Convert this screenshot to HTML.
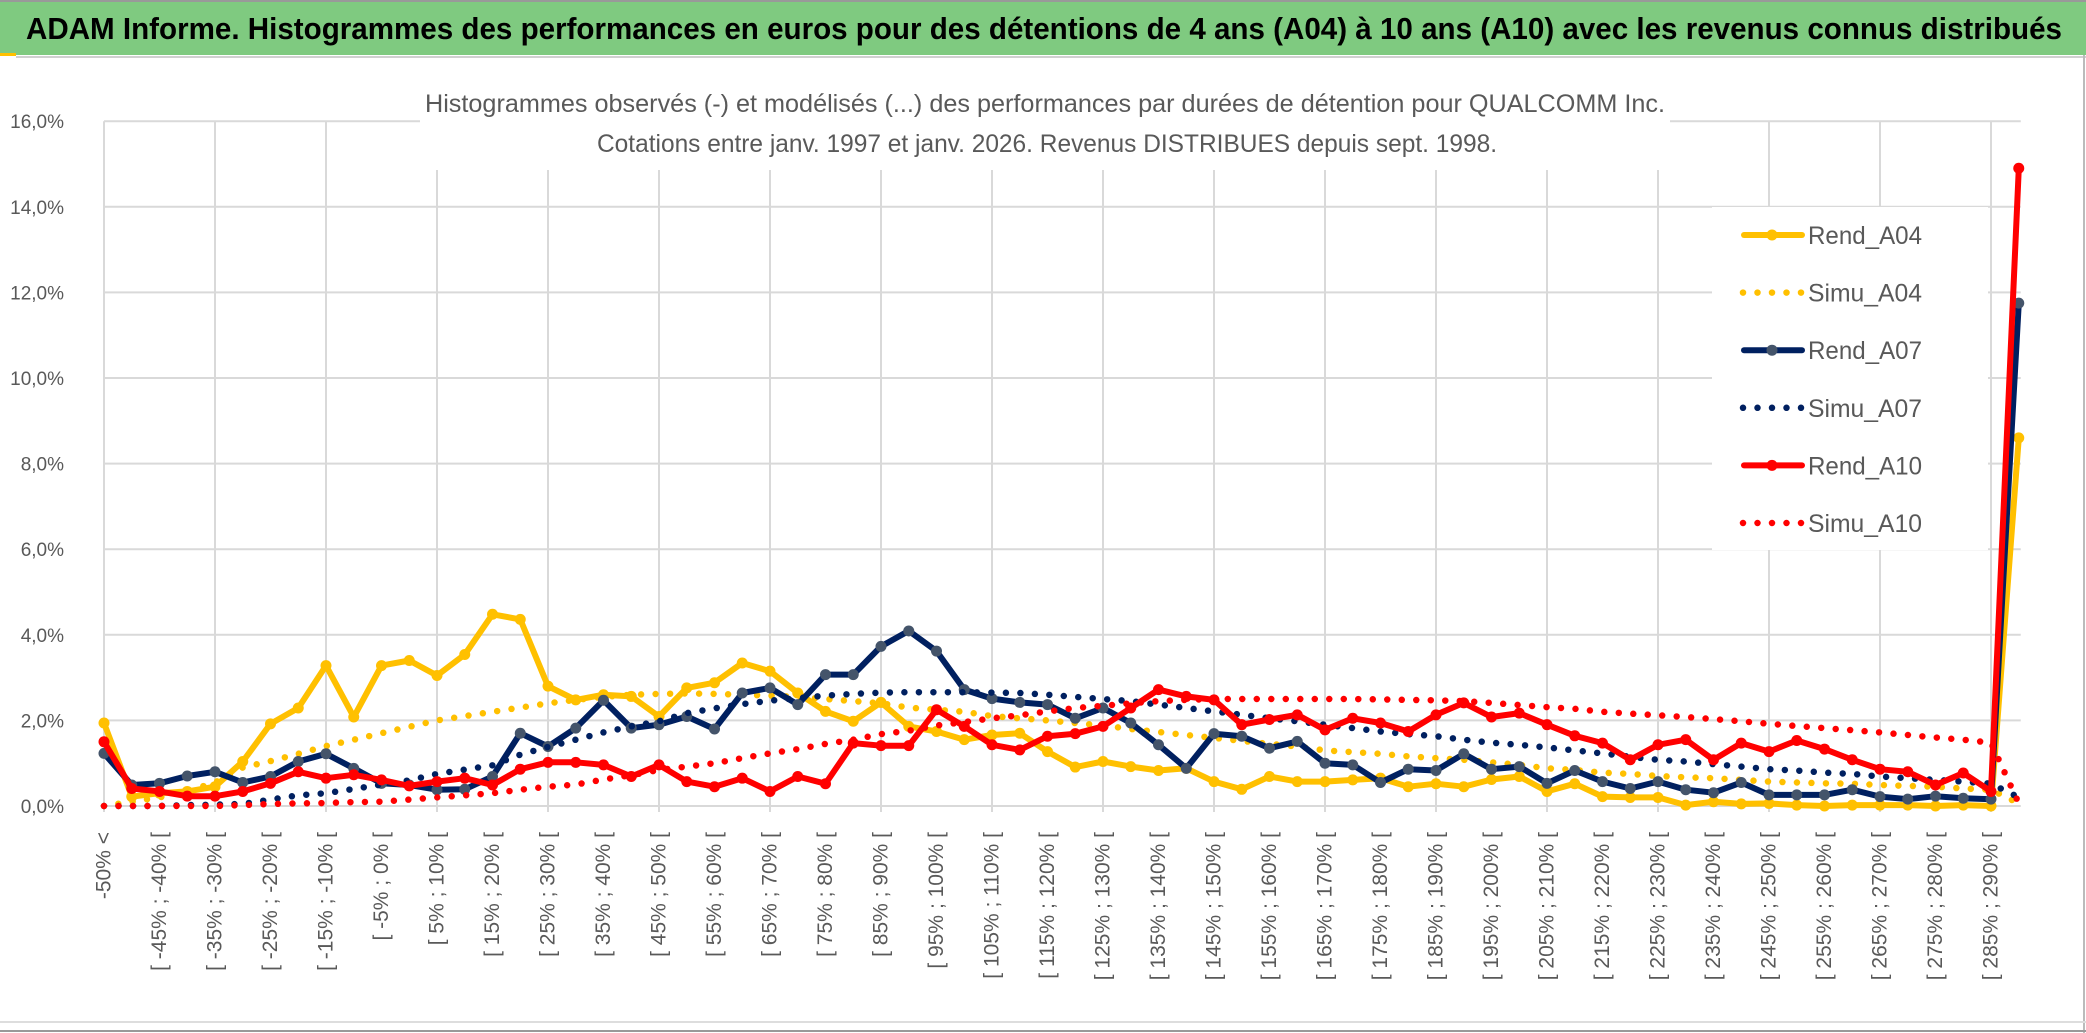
<!DOCTYPE html>
<html><head><meta charset="utf-8"><style>
html,body{margin:0;padding:0;background:#fff;}
svg{display:block;font-family:"Liberation Sans",sans-serif;}
</style></head><body>
<svg id="chart" width="2086" height="1033" viewBox="0 0 2086 1033" xmlns="http://www.w3.org/2000/svg">
<rect x="0" y="0" width="2086" height="1033" fill="#fff"/>
<rect x="0" y="0" width="2086" height="55" fill="#7FCA80"/>
<line x1="0" y1="1" x2="2086" y2="1" stroke="#999" stroke-width="2"/>
<rect x="0" y="53" width="16" height="3" fill="#FFC000"/>
<line x1="16" y1="57" x2="2086" y2="57" stroke="#d0d0d0" stroke-width="2"/>
<line x1="2084" y1="55" x2="2084" y2="1033" stroke="#bbb" stroke-width="2"/>
<line x1="0" y1="1022" x2="2086" y2="1022" stroke="#ddd" stroke-width="2"/>
<line x1="0" y1="1031" x2="2086" y2="1031" stroke="#999" stroke-width="2"/>
<text x="26" y="39" font-size="31" font-weight="bold" fill="#000" textLength="2036" lengthAdjust="spacingAndGlyphs">ADAM Informe. Histogrammes des performances en euros pour des détentions de 4 ans (A04) à 10 ans (A10) avec les revenus connus distribués</text>
<g id="grid"></g>
<g id="yticks"></g>
<g id="xlabels"></g>
<rect x="420" y="78" width="1250" height="92" fill="#fff"/>
<text x="1045" y="112" font-size="25" fill="#595959" text-anchor="middle" textLength="1240" lengthAdjust="spacingAndGlyphs">Histogrammes observés (-) et modélisés (...) des performances par durées de détention pour QUALCOMM Inc.</text>
<text x="1047" y="152" font-size="25" fill="#595959" text-anchor="middle" textLength="900" lengthAdjust="spacingAndGlyphs">Cotations entre janv. 1997 et janv. 2026. Revenus DISTRIBUES depuis sept. 1998.</text>
<g id="series"></g>
<g id="legend"></g>
</svg>
<script>
const categories = ["-50% <"];
for (let k = 1; k < 70; k++) categories.push("[ " + (-55 + 5 * k) + "% ; " + (-50 + 5 * k) + "% [");
const yTicks = [0, 2, 4, 6, 8, 10, 12, 14, 16];
const yTickLabels = ["0,0%", "2,0%", "4,0%", "6,0%", "8,0%", "10,0%", "12,0%", "14,0%", "16,0%"];
const seriesNames = ["Rend_A04", "Simu_A04", "Rend_A07", "Simu_A07", "Rend_A10", "Simu_A10"];
const rendA04 = [1.94,0.22,0.3,0.34,0.45,1.04,1.92,2.29,3.28,2.08,3.28,3.4,3.05,3.54,4.48,4.36,2.8,2.48,2.6,2.56,2.09,2.76,2.88,3.34,3.15,2.64,2.21,1.98,2.42,1.86,1.74,1.55,1.66,1.7,1.27,0.91,1.04,0.92,0.83,0.88,0.57,0.39,0.69,0.57,0.57,0.61,0.65,0.45,0.52,0.45,0.62,0.69,0.34,0.52,0.22,0.2,0.2,0.02,0.1,0.05,0.06,0.02,0.0,0.02,0.02,0.02,0.0,0.02,0.0,8.6];
const simuA04 = [0.0,0.1,0.2,0.35,0.55,0.9,1.05,1.22,1.4,1.55,1.7,1.85,2.0,2.1,2.2,2.3,2.4,2.48,2.55,2.6,2.62,2.63,2.62,2.6,2.58,2.55,2.5,2.45,2.4,2.3,2.25,2.2,2.1,2.05,2.0,1.94,1.88,1.8,1.73,1.66,1.59,1.52,1.45,1.39,1.3,1.26,1.22,1.16,1.12,1.08,1.02,0.96,0.88,0.84,0.78,0.75,0.7,0.67,0.65,0.61,0.57,0.55,0.53,0.52,0.49,0.47,0.45,0.41,0.38,0.06];
const rendA07 = [1.23,0.49,0.53,0.7,0.8,0.55,0.69,1.04,1.22,0.88,0.53,0.49,0.38,0.39,0.69,1.7,1.39,1.82,2.47,1.82,1.9,2.09,1.8,2.64,2.76,2.37,3.07,3.07,3.73,4.09,3.62,2.72,2.51,2.42,2.37,2.05,2.29,1.94,1.43,0.88,1.69,1.63,1.35,1.51,1.0,0.96,0.55,0.86,0.83,1.22,0.86,0.92,0.53,0.83,0.57,0.41,0.57,0.38,0.31,0.55,0.26,0.26,0.26,0.38,0.22,0.16,0.23,0.18,0.16,11.75];
const simuA07 = [0.0,0.0,0.0,0.02,0.03,0.05,0.15,0.25,0.3,0.4,0.5,0.6,0.75,0.85,0.95,1.2,1.38,1.55,1.72,1.86,1.98,2.17,2.28,2.38,2.46,2.52,2.58,2.62,2.65,2.66,2.66,2.66,2.65,2.64,2.6,2.55,2.5,2.45,2.37,2.29,2.21,2.13,2.05,1.98,1.9,1.82,1.74,1.68,1.63,1.55,1.48,1.43,1.37,1.3,1.23,1.15,1.08,1.04,0.98,0.92,0.86,0.83,0.78,0.75,0.69,0.65,0.61,0.57,0.52,0.2];
const rendA10 = [1.5,0.41,0.34,0.23,0.23,0.34,0.53,0.8,0.65,0.73,0.61,0.47,0.57,0.65,0.49,0.86,1.02,1.02,0.96,0.69,0.96,0.57,0.45,0.65,0.34,0.69,0.52,1.47,1.41,1.41,2.25,1.86,1.43,1.31,1.63,1.69,1.86,2.29,2.72,2.56,2.48,1.9,2.02,2.13,1.78,2.05,1.94,1.74,2.13,2.41,2.08,2.17,1.9,1.64,1.47,1.08,1.43,1.55,1.08,1.47,1.27,1.53,1.33,1.08,0.86,0.8,0.49,0.77,0.34,14.9];
const simuA10 = [0,0,0,0,0,0.02,0.05,0.06,0.07,0.09,0.1,0.15,0.2,0.25,0.3,0.38,0.45,0.5,0.62,0.72,0.84,0.92,1.0,1.12,1.23,1.33,1.45,1.55,1.68,1.76,1.88,1.96,2.05,2.12,2.21,2.29,2.34,2.4,2.45,2.48,2.5,2.5,2.5,2.5,2.5,2.5,2.49,2.48,2.47,2.45,2.41,2.36,2.31,2.27,2.2,2.16,2.12,2.08,2.03,1.98,1.92,1.87,1.82,1.77,1.72,1.66,1.6,1.55,1.48,0.06];

const NS = "http://www.w3.org/2000/svg";
const X0 = 104, DX = 27.75, Y0 = 806, PXPER = 42.8;
function xs(i){ return X0 + DX * i; }
function ys(v){ return Y0 - PXPER * v; }
function mk(tag, attrs, parent){ const e = document.createElementNS(NS, tag); for (const k in attrs) e.setAttribute(k, attrs[k]); parent.appendChild(e); return e; }

const grid = document.getElementById("grid");
const xEnd = xs(categories.length - 1) + 2;
yTicks.forEach(function(t){
  const l = mk("line", {x1: X0, x2: xEnd, y1: ys(t), y2: ys(t), stroke: "#d9d9d9", "stroke-width": 2}, grid);
  
  
});
for (let i = 0; i < categories.length; i += 4) {
  const l = mk("line", {x1: xs(i), x2: xs(i), y1: ys(16), y2: Y0 + 6, stroke: "#d9d9d9", "stroke-width": 2}, grid);
  
  
}
const yt = document.getElementById("yticks");
yTicks.forEach(function(t, k){
  const tx = mk("text", {x: 64, y: ys(t) + 7, "font-size": 19, fill: "#595959", "text-anchor": "end"}, yt);
  tx.textContent = yTickLabels[k];
  
  
});
const xl = document.getElementById("xlabels");
for (let i = 0; i < categories.length; i += 2) {
  const x = xs(i), y = 832;
  const tx = mk("text", {x: x, y: y, "font-size": 21, fill: "#595959", "text-anchor": "end", "dominant-baseline": "central", transform: "rotate(-90 " + x + " " + y + ")"}, xl);
  tx.textContent = categories[i];
  
  
}

const sg = document.getElementById("series");
function pts(arr){ return arr.map(function(v, i){ return xs(i).toFixed(1) + "," + ys(v).toFixed(1); }).join(" "); }
function rend(arr, color, mcolor, name){
  const g = mk("g", {}, sg);
  
  
  const p = mk("polyline", {points: pts(arr), fill: "none", stroke: color, "stroke-width": 6, "stroke-linejoin": "round", "stroke-linecap": "round"}, g);
  
  
  arr.forEach(function(v, i){
    const c = mk("circle", {cx: xs(i), cy: ys(v), r: 5.5, fill: mcolor}, g);
    
    
  });
}
function simu(arr, color, name){
  const p = mk("polyline", {points: pts(arr), fill: "none", stroke: color, "stroke-width": 6.5, "stroke-linecap": "round", "stroke-dasharray": "0 14.5"}, sg);
  
  
}
rend(rendA04, "#FFC000", "#FFC000", "rend-a04");
simu(simuA04, "#FFC000", "simu-a04");
rend(rendA07, "#002060", "#44546A", "rend-a07");
simu(simuA07, "#002060", "simu-a07");
rend(rendA10, "#FF0000", "#FF0000", "rend-a10");
simu(simuA10, "#FF0000", "simu-a10");

const lg = document.getElementById("legend");
const lbox = mk("rect", {x: 1712, y: 207, width: 276, height: 343, fill: "#fff"}, lg);


const legColors = ["#FFC000", "#FFC000", "#002060", "#002060", "#FF0000", "#FF0000"];
const legMarkers = ["#FFC000", null, "#44546A", null, "#FF0000", null];
seriesNames.forEach(function(n, k){
  const cy = 235 + k * 57.6;
  const g = mk("g", {}, lg);
  
  
  if (legMarkers[k]) {
    mk("line", {x1: 1744, x2: 1802, y1: cy, y2: cy, stroke: legColors[k], "stroke-width": 6, "stroke-linecap": "round"}, g);
    mk("circle", {cx: 1772, cy: cy, r: 5.5, fill: legMarkers[k]}, g);
  } else {
    mk("line", {x1: 1743, x2: 1803, y1: cy, y2: cy, stroke: legColors[k], "stroke-width": 6.5, "stroke-linecap": "round", "stroke-dasharray": "0 14.5"}, g);
  }
  const t = mk("text", {x: 1808, y: cy + 9, "font-size": 25, fill: "#595959", textLength: 114, lengthAdjust: "spacingAndGlyphs"}, g);
  t.textContent = n;
});
</script>
</body></html>
